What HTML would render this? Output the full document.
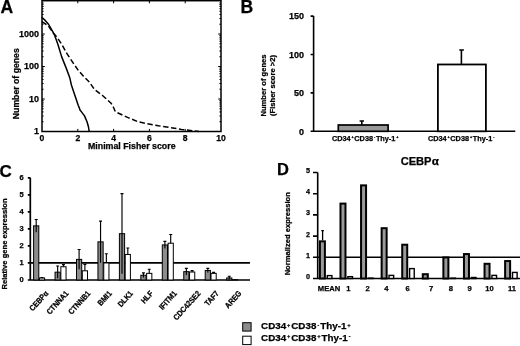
<!DOCTYPE html>
<html><head><meta charset="utf-8"><style>
html,body{margin:0;padding:0;background:#fff;width:520px;height:346px;overflow:hidden}
svg{filter:grayscale(1)}
svg{display:block}
</style></head><body>
<svg width="520" height="346" viewBox="0 0 520 346">
<rect width="520" height="346" fill="#fff"/>
<text x="0.5" y="12.7" font-size="17.6" font-family="Liberation Sans, sans-serif" font-weight="bold" stroke="#000" stroke-width="0.25">A</text>
<path d="M77.80 131.5v-2.6M77.80 0.7v2.6 M113.60 131.5v-2.6M113.60 0.7v2.6 M149.40 131.5v-2.6M149.40 0.7v2.6 M185.20 131.5v-2.6M185.20 0.7v2.6 M42 121.72h1.6M221 121.72h-1.6 M42 115.99h1.6M221 115.99h-1.6 M42 111.93h1.6M221 111.93h-1.6 M42 108.78h1.6M221 108.78h-1.6 M42 106.21h1.6M221 106.21h-1.6 M42 104.03h1.6M221 104.03h-1.6 M42 102.15h1.6M221 102.15h-1.6 M42 100.49h1.6M221 100.49h-1.6 M42 99.00h2.8M221 99.00h-2.8 M42 89.22h1.6M221 89.22h-1.6 M42 83.49h1.6M221 83.49h-1.6 M42 79.43h1.6M221 79.43h-1.6 M42 76.28h1.6M221 76.28h-1.6 M42 73.71h1.6M221 73.71h-1.6 M42 71.53h1.6M221 71.53h-1.6 M42 69.65h1.6M221 69.65h-1.6 M42 67.99h1.6M221 67.99h-1.6 M42 66.50h2.8M221 66.50h-2.8 M42 56.72h1.6M221 56.72h-1.6 M42 50.99h1.6M221 50.99h-1.6 M42 46.93h1.6M221 46.93h-1.6 M42 43.78h1.6M221 43.78h-1.6 M42 41.21h1.6M221 41.21h-1.6 M42 39.03h1.6M221 39.03h-1.6 M42 37.15h1.6M221 37.15h-1.6 M42 35.49h1.6M221 35.49h-1.6 M42 34.00h2.8M221 34.00h-2.8 M42 24.22h1.6M221 24.22h-1.6 M42 18.49h1.6M221 18.49h-1.6 M42 14.43h1.6M221 14.43h-1.6 M42 11.28h1.6M221 11.28h-1.6 M42 8.71h1.6M221 8.71h-1.6 M42 6.53h1.6M221 6.53h-1.6 M42 4.65h1.6M221 4.65h-1.6 M42 2.99h1.6M221 2.99h-1.6" stroke="#000" stroke-width="1" fill="none"/>
<rect x="42" y="0.7" width="179" height="130.8" fill="none" stroke="#000" stroke-width="1.5"/>
<path d="M41.7 17.2 L45.2 20.4 L48.7 24.5 L51.6 29.7 L54.5 34.9 L56.8 41.2 L58.1 45.0 L61.6 56.6 L66.2 68.1 L69.7 77.4 L71.4 85.0 L74.5 94.3 L78.3 105.5 L79.2 107.6 L80.1 110.3 L81.3 111.6 L84.5 115.9 L87.1 122.0 L88.5 127.0 L89.2 131.6" stroke="#000" stroke-width="1.5" fill="none" stroke-linejoin="round"/>
<path d="M42.0 21.6 L44.6 23.3 L48.1 25.6 L53.3 33.1 L57.3 37.7 L62.1 45.0 L67.3 54.2 L73.1 62.9 L78.3 70.4 L83.5 76.2 L89.3 82.0 L94.5 89.5 L103.1 96.0 L111.1 103.2 L113.2 106.8 L115.4 111.8 L123.4 115.5 L129.2 118.1 L138.5 121.9 L158.5 125.8 L181.5 129.4 L199.0 131.6" stroke="#000" stroke-width="1.5" fill="none" stroke-dasharray="5.4 2.6" stroke-linejoin="round"/>
<text x="39.0" y="36.90" font-size="9.0" text-anchor="end" font-family="Liberation Sans, sans-serif" font-weight="bold" stroke="#000" stroke-width="0.25">1000</text>
<text x="39.0" y="69.40" font-size="9.0" text-anchor="end" font-family="Liberation Sans, sans-serif" font-weight="bold" stroke="#000" stroke-width="0.25">100</text>
<text x="39.0" y="101.90" font-size="9.0" text-anchor="end" font-family="Liberation Sans, sans-serif" font-weight="bold" stroke="#000" stroke-width="0.25">10</text>
<text x="39.0" y="134.40" font-size="9.0" text-anchor="end" font-family="Liberation Sans, sans-serif" font-weight="bold" stroke="#000" stroke-width="0.25">1</text>
<text x="42.00" y="141" font-size="8.6" text-anchor="middle" font-family="Liberation Sans, sans-serif" font-weight="bold" stroke="#000" stroke-width="0.25">0</text>
<text x="77.80" y="141" font-size="8.6" text-anchor="middle" font-family="Liberation Sans, sans-serif" font-weight="bold" stroke="#000" stroke-width="0.25">2</text>
<text x="113.60" y="141" font-size="8.6" text-anchor="middle" font-family="Liberation Sans, sans-serif" font-weight="bold" stroke="#000" stroke-width="0.25">4</text>
<text x="149.40" y="141" font-size="8.6" text-anchor="middle" font-family="Liberation Sans, sans-serif" font-weight="bold" stroke="#000" stroke-width="0.25">6</text>
<text x="185.20" y="141" font-size="8.6" text-anchor="middle" font-family="Liberation Sans, sans-serif" font-weight="bold" stroke="#000" stroke-width="0.25">8</text>
<text x="221.00" y="141" font-size="8.6" text-anchor="middle" font-family="Liberation Sans, sans-serif" font-weight="bold" stroke="#000" stroke-width="0.25">10</text>
<text x="131.8" y="149.4" font-size="8.8" text-anchor="middle" font-family="Liberation Sans, sans-serif" font-weight="bold" stroke="#000" stroke-width="0.25">Minimal Fisher score</text>
<text transform="translate(19,83.7) rotate(-90)" x="0" y="0" font-size="8.7" text-anchor="middle" font-family="Liberation Sans, sans-serif" font-weight="bold" stroke="#000" stroke-width="0.25">Number of genes</text>
<text x="240.6" y="12.7" font-size="17.6" font-family="Liberation Sans, sans-serif" font-weight="bold" stroke="#000" stroke-width="0.25">B</text>
<path d="M313.6 16.10V131.3 M310.6 131.3H515.3 M310.6 92.90H313.6 M310.6 54.50H313.6 M310.6 16.10H313.6" stroke="#000" stroke-width="1.6" fill="none"/>
<text x="304.1" y="134.50" font-size="9" text-anchor="end" font-family="Liberation Sans, sans-serif" font-weight="bold" stroke="#000" stroke-width="0.25">0</text>
<text x="304.1" y="96.10" font-size="9" text-anchor="end" font-family="Liberation Sans, sans-serif" font-weight="bold" stroke="#000" stroke-width="0.25">50</text>
<text x="304.1" y="57.70" font-size="9" text-anchor="end" font-family="Liberation Sans, sans-serif" font-weight="bold" stroke="#000" stroke-width="0.25">100</text>
<text x="304.1" y="19.30" font-size="9" text-anchor="end" font-family="Liberation Sans, sans-serif" font-weight="bold" stroke="#000" stroke-width="0.25">150</text>
<rect x="338.3" y="125.00" width="49.8" height="6.30" fill="#999" stroke="#000" stroke-width="1.7"/>
<path d="M361.8 125.00V121 M359.6 121H364" stroke="#000" stroke-width="1.6"/>
<rect x="437.9" y="64.48" width="48" height="66.82" fill="#fff" stroke="#000" stroke-width="1.8"/>
<path d="M461.4 64.48V50 M459.3 50H463.9" stroke="#000" stroke-width="1.6"/>
<text x="331.9" y="141.3" font-size="7.3" text-anchor="start" font-family="Liberation Sans, sans-serif" font-weight="bold" stroke="#000" stroke-width="0.25">CD34<tspan font-size="3.72" dx="0.89" dy="-3.00">+</tspan><tspan dx="0.74" dy="3.00">CD38</tspan><tspan font-size="3.72" dx="0.89" dy="-3.00">-</tspan><tspan dx="0.74" dy="3.00">Thy-1</tspan><tspan font-size="3.72" dx="0.89" dy="-3.00">+</tspan></text>
<text x="427.9" y="141.3" font-size="7.3" text-anchor="start" font-family="Liberation Sans, sans-serif" font-weight="bold" stroke="#000" stroke-width="0.25">CD34<tspan font-size="3.72" dx="0.89" dy="-3.00">+</tspan><tspan dx="0.74" dy="3.00">CD38</tspan><tspan font-size="3.72" dx="0.89" dy="-3.00">+</tspan><tspan dx="0.74" dy="3.00">Thy-1</tspan><tspan font-size="3.72" dx="0.89" dy="-3.00">-</tspan></text>
<text transform="translate(265.8,85.5) rotate(-90)" font-size="7.6" text-anchor="middle" font-family="Liberation Sans, sans-serif" font-weight="bold" stroke="#000" stroke-width="0.25">Number of genes</text>
<text transform="translate(274.6,85.5) rotate(-90)" font-size="7.6" text-anchor="middle" font-family="Liberation Sans, sans-serif" font-weight="bold" stroke="#000" stroke-width="0.25">(Fisher score &gt;2)</text>
<text x="-0.5" y="177.3" font-size="17" font-family="Liberation Sans, sans-serif" font-weight="bold" stroke="#000" stroke-width="0.25">C</text>
<path d="M30.3 177.82V280 M27.8 280H250 M30.3 262.97H250 M27.8 262.97H30.3 M27.8 245.94H30.3 M27.8 228.91H30.3 M27.8 211.88H30.3 M27.8 194.85H30.3 M27.8 177.82H30.3" stroke="#000" stroke-width="1.7" fill="none"/>
<text x="23.6" y="281.90" font-size="7.5" text-anchor="end" font-family="Liberation Sans, sans-serif" font-weight="bold" stroke="#000" stroke-width="0.25">0</text>
<text x="23.6" y="264.87" font-size="7.5" text-anchor="end" font-family="Liberation Sans, sans-serif" font-weight="bold" stroke="#000" stroke-width="0.25">1</text>
<text x="23.6" y="247.84" font-size="7.5" text-anchor="end" font-family="Liberation Sans, sans-serif" font-weight="bold" stroke="#000" stroke-width="0.25">2</text>
<text x="23.6" y="230.81" font-size="7.5" text-anchor="end" font-family="Liberation Sans, sans-serif" font-weight="bold" stroke="#000" stroke-width="0.25">3</text>
<text x="23.6" y="213.78" font-size="7.5" text-anchor="end" font-family="Liberation Sans, sans-serif" font-weight="bold" stroke="#000" stroke-width="0.25">4</text>
<text x="23.6" y="196.75" font-size="7.5" text-anchor="end" font-family="Liberation Sans, sans-serif" font-weight="bold" stroke="#000" stroke-width="0.25">5</text>
<text x="23.6" y="179.72" font-size="7.5" text-anchor="end" font-family="Liberation Sans, sans-serif" font-weight="bold" stroke="#000" stroke-width="0.25">6</text>
<rect x="33.60" y="225.84" width="5.2" height="54.16" fill="#8c8c8c" stroke="#000" stroke-width="1"/><rect x="39.40" y="277.96" width="5.2" height="2.04" fill="#fff" stroke="#000" stroke-width="1"/><text transform="translate(48.80,293.8) rotate(-48) scale(0.88,1)" font-size="8" text-anchor="end" font-family="Liberation Sans, sans-serif" font-weight="bold" stroke="#000" stroke-width="0.25">CEBP&#945;</text><rect x="55.05" y="272.17" width="5.2" height="7.83" fill="#8c8c8c" stroke="#000" stroke-width="1"/><rect x="60.85" y="266.72" width="5.2" height="13.28" fill="#fff" stroke="#000" stroke-width="1"/><text transform="translate(69.00,293.8) rotate(-48) scale(0.88,1)" font-size="8" text-anchor="end" font-family="Liberation Sans, sans-serif" font-weight="bold" stroke="#000" stroke-width="0.25">CTNNA1</text><rect x="76.50" y="259.39" width="5.2" height="20.61" fill="#8c8c8c" stroke="#000" stroke-width="1"/><rect x="82.30" y="270.80" width="5.2" height="9.20" fill="#fff" stroke="#000" stroke-width="1"/><text transform="translate(90.90,293.8) rotate(-48) scale(0.88,1)" font-size="8" text-anchor="end" font-family="Liberation Sans, sans-serif" font-weight="bold" stroke="#000" stroke-width="0.25">CTNNB1</text><rect x="97.95" y="241.85" width="5.2" height="38.15" fill="#8c8c8c" stroke="#000" stroke-width="1"/><rect x="103.75" y="262.97" width="5.2" height="17.03" fill="#fff" stroke="#000" stroke-width="1"/><text transform="translate(112.25,293.8) rotate(-48) scale(0.88,1)" font-size="8" text-anchor="end" font-family="Liberation Sans, sans-serif" font-weight="bold" stroke="#000" stroke-width="0.25">BMI1</text><rect x="119.40" y="233.68" width="5.2" height="46.32" fill="#8c8c8c" stroke="#000" stroke-width="1"/><rect x="125.20" y="254.45" width="5.2" height="25.55" fill="#fff" stroke="#000" stroke-width="1"/><text transform="translate(133.45,293.8) rotate(-48) scale(0.88,1)" font-size="8" text-anchor="end" font-family="Liberation Sans, sans-serif" font-weight="bold" stroke="#000" stroke-width="0.25">DLK1</text><rect x="140.85" y="275.23" width="5.2" height="4.77" fill="#8c8c8c" stroke="#000" stroke-width="1"/><rect x="146.65" y="273.36" width="5.2" height="6.64" fill="#fff" stroke="#000" stroke-width="1"/><text transform="translate(153.55,293.8) rotate(-48) scale(0.88,1)" font-size="8" text-anchor="end" font-family="Liberation Sans, sans-serif" font-weight="bold" stroke="#000" stroke-width="0.25">HLF</text><rect x="162.30" y="244.92" width="5.2" height="35.08" fill="#8c8c8c" stroke="#000" stroke-width="1"/><rect x="168.10" y="243.22" width="5.2" height="36.78" fill="#fff" stroke="#000" stroke-width="1"/><text transform="translate(177.35,293.8) rotate(-48) scale(0.88,1)" font-size="8" text-anchor="end" font-family="Liberation Sans, sans-serif" font-weight="bold" stroke="#000" stroke-width="0.25">IFITM1</text><rect x="183.75" y="271.66" width="5.2" height="8.34" fill="#8c8c8c" stroke="#000" stroke-width="1"/><rect x="189.55" y="272.00" width="5.2" height="8.00" fill="#fff" stroke="#000" stroke-width="1"/><text transform="translate(201.10,293.8) rotate(-48) scale(0.88,1)" font-size="8" text-anchor="end" font-family="Liberation Sans, sans-serif" font-weight="bold" stroke="#000" stroke-width="0.25">CDC42SE2</text><rect x="205.20" y="270.46" width="5.2" height="9.54" fill="#8c8c8c" stroke="#000" stroke-width="1"/><rect x="211.00" y="273.36" width="5.2" height="6.64" fill="#fff" stroke="#000" stroke-width="1"/><text transform="translate(219.45,293.8) rotate(-48) scale(0.88,1)" font-size="8" text-anchor="end" font-family="Liberation Sans, sans-serif" font-weight="bold" stroke="#000" stroke-width="0.25">TAF7</text><rect x="226.65" y="277.96" width="5.2" height="2.04" fill="#8c8c8c" stroke="#000" stroke-width="1"/><rect x="232.45" y="279.66" width="5.2" height="0.34" fill="#fff" stroke="#000" stroke-width="1"/><text transform="translate(241.95,293.8) rotate(-48) scale(0.88,1)" font-size="8" text-anchor="end" font-family="Liberation Sans, sans-serif" font-weight="bold" stroke="#000" stroke-width="0.25">AREG</text>
<path d="M36.20 219.54V232.15M34.70 219.54h3M42.00 277.62V277.96M40.50 277.62h3M57.65 266.04V278.30M56.15 266.04h3M63.45 264.67V266.72M61.95 264.67h3M79.10 249.52V269.27M77.60 249.52h3M84.90 264.33V270.80M83.40 264.33h3M100.55 221.08V262.63M99.05 221.08h3M106.35 253.77V262.97M104.85 253.77h3M122.00 193.66V273.70M120.50 193.66h3M127.80 247.98V254.45M126.30 247.98h3M143.45 272.85V277.62M141.95 272.85h3M149.25 269.27V273.36M147.75 269.27h3M164.90 241.34V248.49M163.40 241.34h3M170.70 234.53V243.22M169.20 234.53h3M186.35 268.42V274.89M184.85 268.42h3M192.15 270.63V272.00M190.65 270.63h3M207.80 268.42V272.51M206.30 268.42h3M213.60 272.34V273.36M212.10 272.34h3M229.25 276.25V279.66M227.75 276.25h3M235.05 279.49V279.66M233.55 279.49h3" stroke="#000" stroke-width="1.15" fill="none"/>
<text transform="translate(7,244) rotate(-90)" font-size="7.6" text-anchor="middle" font-family="Liberation Sans, sans-serif" font-weight="bold" stroke="#000" stroke-width="0.25">Relative gene expression</text>
<rect x="242.7" y="322.7" width="8.4" height="8.4" fill="#8c8c8c" stroke="#000" stroke-width="1"/>
<rect x="242.7" y="336.2" width="8.4" height="8.4" fill="#fff" stroke="#000" stroke-width="1"/>
<text x="261.1" y="329.3" font-size="9.8" text-anchor="start" font-family="Liberation Sans, sans-serif" font-weight="bold" stroke="#000" stroke-width="0.25">CD34<tspan font-size="5.00" dx="1.20" dy="-2.70">+</tspan><tspan dx="1.00" dy="2.70">CD38</tspan><tspan font-size="5.00" dx="1.20" dy="-2.70">-</tspan><tspan dx="1.00" dy="2.70">Thy-1</tspan><tspan font-size="5.00" dx="1.20" dy="-2.70">+</tspan></text>
<text x="261.1" y="341.1" font-size="9.8" text-anchor="start" font-family="Liberation Sans, sans-serif" font-weight="bold" stroke="#000" stroke-width="0.25">CD34<tspan font-size="5.00" dx="1.20" dy="-2.70">+</tspan><tspan dx="1.00" dy="2.70">CD38</tspan><tspan font-size="5.00" dx="1.20" dy="-2.70">+</tspan><tspan dx="1.00" dy="2.70">Thy-1</tspan><tspan font-size="5.00" dx="1.20" dy="-2.70">-</tspan></text>
<text x="277" y="174.6" font-size="16.5" font-family="Liberation Sans, sans-serif" font-weight="bold" stroke="#000" stroke-width="0.25">D</text>
<path d="M317.7 172.50V278.5 M313 278.5H520 M313 257.30H520 M313 257.30H317.7 M313 236.10H317.7 M313 214.90H317.7 M313 193.70H317.7 M313 172.50H317.7" stroke="#000" stroke-width="1.6" fill="none"/>
<text x="310.1" y="278.90" font-size="7.2" text-anchor="end" font-family="Liberation Sans, sans-serif" font-weight="bold" stroke="#000" stroke-width="0.25">0</text>
<text x="310.1" y="257.70" font-size="7.2" text-anchor="end" font-family="Liberation Sans, sans-serif" font-weight="bold" stroke="#000" stroke-width="0.25">1</text>
<text x="310.1" y="236.50" font-size="7.2" text-anchor="end" font-family="Liberation Sans, sans-serif" font-weight="bold" stroke="#000" stroke-width="0.25">2</text>
<text x="310.1" y="215.30" font-size="7.2" text-anchor="end" font-family="Liberation Sans, sans-serif" font-weight="bold" stroke="#000" stroke-width="0.25">3</text>
<text x="310.1" y="194.10" font-size="7.2" text-anchor="end" font-family="Liberation Sans, sans-serif" font-weight="bold" stroke="#000" stroke-width="0.25">4</text>
<text x="310.1" y="172.90" font-size="7.2" text-anchor="end" font-family="Liberation Sans, sans-serif" font-weight="bold" stroke="#000" stroke-width="0.25">5</text>
<rect x="319.90" y="241.34" width="5" height="37.16" fill="#9a9a9a" stroke="#000" stroke-width="2"/><rect x="327.30" y="275.60" width="4.6" height="2.90" fill="#fff" stroke="#000" stroke-width="1.4"/><text x="329.00" y="291.2" font-size="7.6" text-anchor="middle" font-family="Liberation Sans, sans-serif" font-weight="bold" stroke="#000" stroke-width="0.25">MEAN</text><rect x="340.48" y="203.60" width="5" height="74.90" fill="#9a9a9a" stroke="#000" stroke-width="2"/><rect x="347.88" y="276.66" width="4.6" height="1.84" fill="#fff" stroke="#000" stroke-width="1.4"/><text x="348.30" y="291.2" font-size="7.6" text-anchor="middle" font-family="Liberation Sans, sans-serif" font-weight="bold" stroke="#000" stroke-width="0.25">1</text><rect x="361.06" y="185.37" width="5" height="93.13" fill="#9a9a9a" stroke="#000" stroke-width="2"/><rect x="368.46" y="278.14" width="4.6" height="0.36" fill="#fff" stroke="#000" stroke-width="1.4"/><text x="367.60" y="291.2" font-size="7.6" text-anchor="middle" font-family="Liberation Sans, sans-serif" font-weight="bold" stroke="#000" stroke-width="0.25">2</text><rect x="381.64" y="228.20" width="5" height="50.30" fill="#9a9a9a" stroke="#000" stroke-width="2"/><rect x="389.04" y="275.38" width="4.6" height="3.12" fill="#fff" stroke="#000" stroke-width="1.4"/><text x="386.40" y="291.2" font-size="7.6" text-anchor="middle" font-family="Liberation Sans, sans-serif" font-weight="bold" stroke="#000" stroke-width="0.25">4</text><rect x="402.22" y="244.73" width="5" height="33.77" fill="#9a9a9a" stroke="#000" stroke-width="2"/><rect x="409.62" y="268.60" width="4.6" height="9.90" fill="#fff" stroke="#000" stroke-width="1.4"/><text x="407.70" y="291.2" font-size="7.6" text-anchor="middle" font-family="Liberation Sans, sans-serif" font-weight="bold" stroke="#000" stroke-width="0.25">6</text><rect x="422.80" y="274.20" width="5" height="4.30" fill="#9a9a9a" stroke="#000" stroke-width="2"/><rect x="430.20" y="278.99" width="4.6" height="0.00" fill="#fff" stroke="#000" stroke-width="1.4"/><text x="431.10" y="291.2" font-size="7.6" text-anchor="middle" font-family="Liberation Sans, sans-serif" font-weight="bold" stroke="#000" stroke-width="0.25">7</text><rect x="443.38" y="257.45" width="5" height="21.05" fill="#9a9a9a" stroke="#000" stroke-width="2"/><rect x="450.78" y="278.14" width="4.6" height="0.36" fill="#fff" stroke="#000" stroke-width="1.4"/><text x="450.90" y="291.2" font-size="7.6" text-anchor="middle" font-family="Liberation Sans, sans-serif" font-weight="bold" stroke="#000" stroke-width="0.25">8</text><rect x="463.96" y="254.06" width="5" height="24.44" fill="#9a9a9a" stroke="#000" stroke-width="2"/><rect x="471.36" y="277.50" width="4.6" height="1.00" fill="#fff" stroke="#000" stroke-width="1.4"/><text x="469.70" y="291.2" font-size="7.6" text-anchor="middle" font-family="Liberation Sans, sans-serif" font-weight="bold" stroke="#000" stroke-width="0.25">9</text><rect x="484.54" y="263.81" width="5" height="14.69" fill="#9a9a9a" stroke="#000" stroke-width="2"/><rect x="491.94" y="275.38" width="4.6" height="3.12" fill="#fff" stroke="#000" stroke-width="1.4"/><text x="489.50" y="291.2" font-size="7.6" text-anchor="middle" font-family="Liberation Sans, sans-serif" font-weight="bold" stroke="#000" stroke-width="0.25">10</text><rect x="505.12" y="261.06" width="5" height="17.44" fill="#9a9a9a" stroke="#000" stroke-width="2"/><rect x="512.52" y="272.42" width="4.6" height="6.08" fill="#fff" stroke="#000" stroke-width="1.4"/><text x="512.00" y="291.2" font-size="7.6" text-anchor="middle" font-family="Liberation Sans, sans-serif" font-weight="bold" stroke="#000" stroke-width="0.25">11</text>
<path d="M322.6 230.16V240.34M321.3 230.56h2.6" stroke="#000" stroke-width="1.3"/>
<text transform="translate(290,233.8) rotate(-90)" font-size="7.6" text-anchor="middle" font-family="Liberation Sans, sans-serif" font-weight="bold" stroke="#000" stroke-width="0.25">Normalized expression</text>
<text x="400.7" y="164.6" font-size="11.1" font-family="Liberation Sans, sans-serif" font-weight="bold" stroke="#000" stroke-width="0.25">CEBP<tspan font-family="Liberation Serif, serif" font-weight="bold" font-size="12.6" dx="0.3">&#945;</tspan></text>
</svg></body></html>
